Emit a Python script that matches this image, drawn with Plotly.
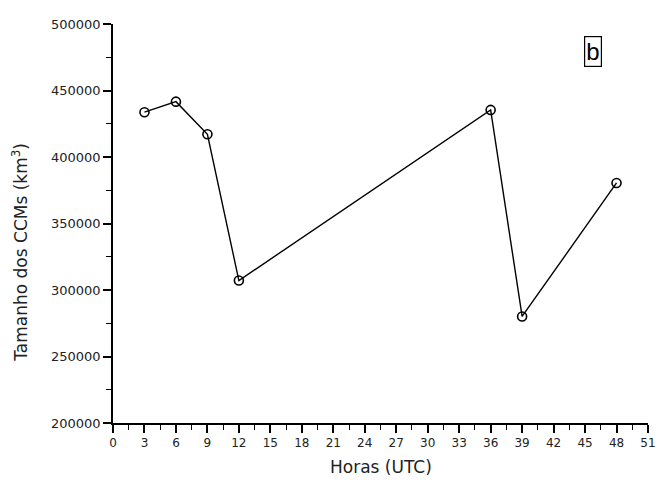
import plotly.graph_objects as go

hours = [3, 6, 9, 12, 36, 39, 48]
sizes = [433700, 441600, 417100, 307100, 435400, 280100, 380500]

x_ticks = list(range(0, 52, 3))
x_tick_labels = [str(v) for v in x_ticks]
y_ticks = [200000, 250000, 300000, 350000, 400000, 450000, 500000]
y_tick_labels = [str(v) for v in y_ticks]

x_title = "Horas (UTC)"
y_title = "Tamanho dos CCMs (km<sup>3</sup>)"
panel_label = "b"

fig = go.Figure()
fig.add_trace(go.Scatter(
    x=hours, y=sizes, mode="lines+markers",
    line=dict(color="black", width=1.4),
    marker=dict(symbol="circle-open", size=9, color="black", line=dict(width=1.6)),
    showlegend=False,
))

font = dict(family="DejaVu Sans, Verdana, sans-serif", color="#222222")

fig.update_layout(
    width=658, height=486,
    margin=dict(l=113, r=10, t=24, b=63),
    plot_bgcolor="white", paper_bgcolor="white",
    font=dict(**font, size=12),
    xaxis=dict(
        range=[0, 51], tickmode="array", tickvals=x_ticks, ticktext=x_tick_labels,
        automargin=False,
        showgrid=False, zeroline=False, showline=True, linecolor="black", linewidth=1.6,
        ticks="outside", ticklen=8, tickwidth=1.6, tickcolor="black",
        minor=dict(ticks="outside", ticklen=5, tickwidth=1.3, tickcolor="black", dtick=1.5, tick0=0),
        tickfont=dict(size=12, **font),
    ),
    yaxis=dict(
        range=[200000, 500000], tickmode="array", tickvals=y_ticks, ticktext=y_tick_labels,
        automargin=False,
        showgrid=False, zeroline=False, showline=True, linecolor="black", linewidth=1.6,
        ticks="outside", ticklen=8, tickwidth=1.6, tickcolor="black",
        minor=dict(ticks="outside", ticklen=5, tickwidth=1.3, tickcolor="black", dtick=25000, tick0=200000),
        tickfont=dict(size=13, **font),
    ),
    annotations=[
        dict(text=x_title, xref="paper", yref="paper", x=0.5, y=-0.11,
             xanchor="center", yanchor="middle", showarrow=False,
             font=dict(size=17, **font)),
        dict(text=y_title, xref="paper", yref="paper", x=-0.174, y=0.429,
             xanchor="center", yanchor="middle", textangle=-90, showarrow=False,
             font=dict(size=17, **font)),
        dict(text=panel_label, xref="paper", yref="paper", x=0.897, y=0.932,
             xanchor="center", yanchor="middle", showarrow=False,
             font=dict(size=24, family="Liberation Sans, Arial, sans-serif", color="black"),
             bordercolor="black", borderwidth=1.2, borderpad=1),
    ],
)

fig.write_html(
    "out.html",
    config={"displayModeBar": False},
    post_script="document.body.style.margin='0px';document.body.style.overflow='hidden';",
)
